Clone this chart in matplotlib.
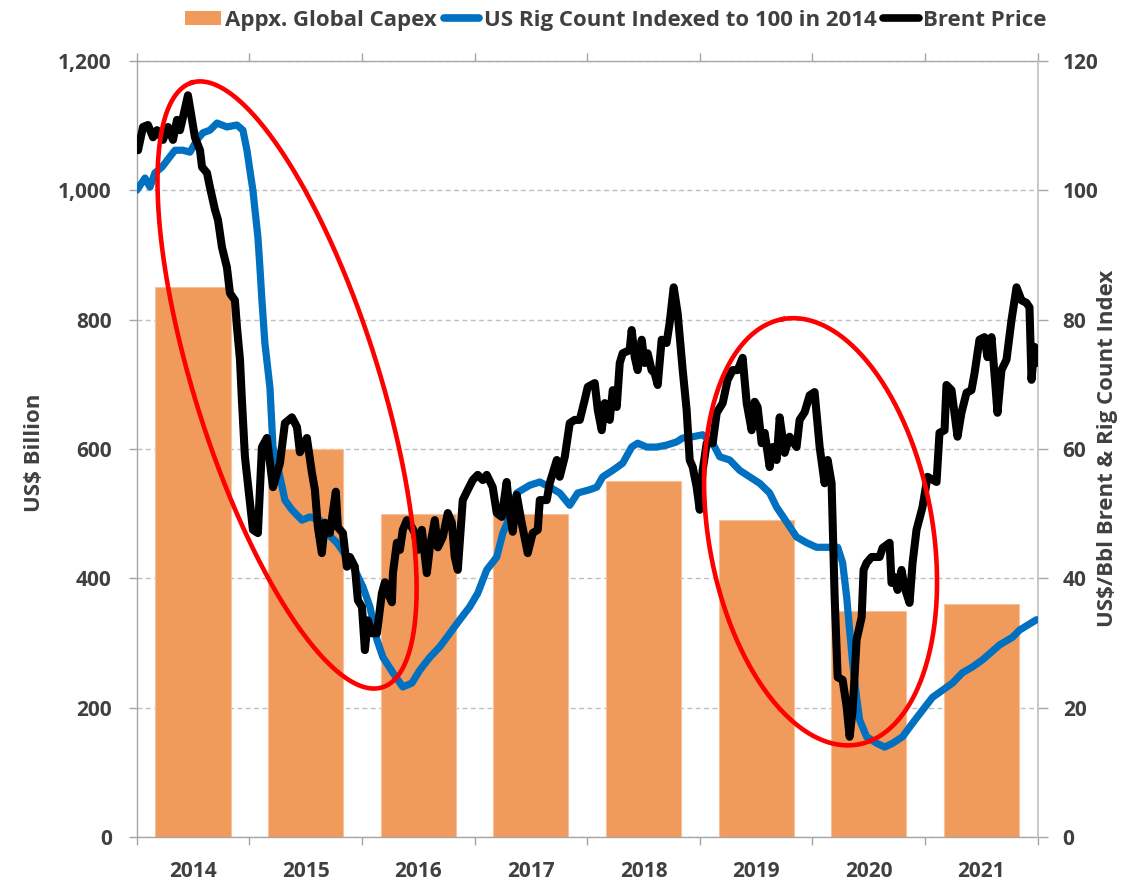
import numpy as np
import matplotlib
matplotlib.use("Agg")
import matplotlib.pyplot as plt
from matplotlib.lines import Line2D
from matplotlib.patches import Patch
from matplotlib.ticker import FuncFormatter, FixedLocator

# ---------------- data ----------------
years = [2014, 2015, 2016, 2017, 2018, 2019, 2020, 2021]
capex = [850, 600, 500, 500, 550, 490, 350, 360]          # US$ billion

# Brent price (US$/bbl); time in years since 1 Jan 2014
brent_dt = [0.000, 0.012, 0.056, 0.100, 0.145, 0.180, 0.233, 0.278, 0.322, 0.358,
            0.384, 0.411, 0.455, 0.491, 0.517, 0.562, 0.580, 0.624, 0.650, 0.695,
            0.722, 0.757, 0.801, 0.828, 0.872, 0.890, 0.917, 0.934, 0.961, 1.032,
            1.076, 1.112, 1.156, 1.210, 1.272, 1.316, 1.378, 1.423, 1.449, 1.511,
            1.556, 1.582, 1.609, 1.644, 1.671, 1.715, 1.768, 1.786, 1.831, 1.866,
            1.893, 1.937, 1.964, 2.000, 2.026, 2.053, 2.089, 2.133, 2.177, 2.204,
            2.230, 2.266, 2.275, 2.310, 2.337, 2.363, 2.399, 2.443, 2.470, 2.496,
            2.532, 2.576, 2.603, 2.647, 2.674, 2.718, 2.762, 2.798, 2.824, 2.851,
            2.895, 2.940, 2.984, 3.028, 3.073, 3.108, 3.161, 3.197, 3.241, 3.285,
            3.312, 3.339, 3.374, 3.418, 3.472, 3.516, 3.561, 3.579, 3.641, 3.667,
            3.730, 3.756, 3.801, 3.845, 3.889, 3.934, 3.978, 4.005, 4.067, 4.094,
            4.129, 4.156, 4.200, 4.227, 4.262, 4.289, 4.315, 4.377, 4.395, 4.422,
            4.448, 4.484, 4.510, 4.537, 4.572, 4.599, 4.626, 4.661, 4.705, 4.732,
            4.768, 4.803, 4.848, 4.883, 4.910, 4.937, 4.972, 4.999, 5.025, 5.061,
            5.114, 5.150, 5.203, 5.247, 5.292, 5.336, 5.380, 5.416, 5.460, 5.487,
            5.513, 5.549, 5.576, 5.620, 5.646, 5.682, 5.709, 5.753, 5.797, 5.859,
            5.886, 5.931, 5.975, 6.019, 6.064, 6.108, 6.135, 6.170, 6.197, 6.224,
            6.268, 6.304, 6.330, 6.357, 6.392, 6.437, 6.454, 6.481, 6.525, 6.596,
            6.623, 6.685, 6.702, 6.729, 6.756, 6.791, 6.818, 6.862, 6.889, 6.924,
            6.977, 7.022, 7.102, 7.128, 7.173, 7.190, 7.235, 7.261, 7.288, 7.323,
            7.368, 7.412, 7.439, 7.483, 7.527, 7.554, 7.590, 7.616, 7.643, 7.678,
            7.723, 7.767, 7.812, 7.856, 7.900, 7.927, 7.945, 7.971, 7.989]
brent_price = [107.0, 106.2, 109.8, 110.1, 108.2, 109.3, 107.8, 109.8, 107.8, 110.9,
               109.3, 111.3, 114.7, 110.9, 108.2, 106.2, 103.6, 102.7, 100.5, 97.0,
               95.4, 91.2, 88.1, 84.1, 83.0, 78.9, 73.8, 67.6, 58.8, 47.5,
               47.0, 60.3, 61.7, 54.1, 57.8, 64.0, 64.9, 63.4, 59.5, 61.7,
               56.3, 53.7, 47.9, 43.9, 48.6, 47.0, 53.4, 47.9, 47.0, 41.8,
               43.3, 41.8, 36.6, 35.6, 28.9, 33.5, 31.5, 31.5, 37.7, 39.4,
               37.7, 36.3, 40.8, 45.5, 44.4, 47.5, 49.0, 47.9, 47.0, 44.4,
               47.5, 40.8, 44.8, 49.0, 44.8, 46.4, 50.1, 48.6, 43.3, 41.3,
               52.1, 53.7, 55.2, 56.0, 55.2, 56.0, 54.1, 50.1, 49.5, 54.9,
               50.1, 47.2, 52.9, 48.6, 43.9, 47.0, 47.5, 52.1, 52.1, 54.7,
               58.3, 55.7, 58.8, 64.0, 64.5, 64.5, 67.6, 69.6, 70.2, 66.0,
               62.9, 67.1, 64.5, 69.1, 66.5, 73.3, 74.8, 75.3, 78.4, 74.2,
               72.2, 76.9, 73.3, 74.8, 72.2, 71.7, 69.9, 76.9, 76.4, 79.5,
               85.0, 81.0, 72.2, 66.0, 58.3, 57.2, 54.1, 50.6, 56.7, 60.9,
               60.9, 65.6, 67.1, 70.7, 72.2, 72.2, 74.1, 67.1, 62.9, 67.3,
               66.5, 60.9, 62.5, 57.2, 60.3, 58.3, 64.9, 59.4, 61.9, 60.3,
               64.5, 65.7, 68.3, 68.8, 60.3, 54.7, 58.3, 54.7, 37.1, 24.7,
               24.3, 20.1, 15.5, 19.6, 30.5, 34.0, 41.3, 42.4, 43.3, 43.3,
               44.7, 45.5, 39.3, 40.2, 38.2, 41.3, 38.6, 36.2, 42.4, 47.5,
               51.0, 55.7, 54.9, 62.5, 62.9, 69.9, 69.1, 65.6, 61.9, 65.6,
               68.7, 69.1, 71.7, 76.9, 77.3, 74.2, 77.3, 71.7, 65.6, 72.2,
               73.8, 79.9, 85.0, 83.0, 82.6, 81.9, 70.7, 75.8, 73.3]

# US rig count indexed to 100 (start of 2014); time in years since 1 Jan 2014
rig_dt = [0.000, 0.074, 0.118, 0.162, 0.225, 0.295, 0.340, 0.411, 0.473, 0.535,
          0.588, 0.650, 0.713, 0.801, 0.890, 0.943, 0.979, 1.005, 1.032, 1.050,
          1.076, 1.094, 1.112, 1.138, 1.183, 1.210, 1.272, 1.316, 1.378, 1.467,
          1.538, 1.627, 1.689, 1.778, 1.866, 1.937, 2.008, 2.071, 2.133, 2.186,
          2.275, 2.363, 2.443, 2.514, 2.603, 2.691, 2.780, 2.869, 2.957, 3.028,
          3.108, 3.197, 3.251, 3.312, 3.374, 3.490, 3.579, 3.667, 3.756, 3.845,
          3.916, 4.022, 4.085, 4.138, 4.227, 4.315, 4.395, 4.448, 4.528, 4.617,
          4.705, 4.794, 4.848, 4.937, 5.025, 5.114, 5.177, 5.265, 5.354, 5.442,
          5.531, 5.620, 5.682, 5.771, 5.859, 5.948, 6.037, 6.152, 6.224, 6.268,
          6.304, 6.330, 6.357, 6.392, 6.419, 6.481, 6.570, 6.641, 6.712, 6.800,
          6.889, 6.977, 7.066, 7.155, 7.243, 7.332, 7.421, 7.510, 7.661, 7.777,
          7.839, 7.989]
rig_index = [100.0, 101.9, 100.5, 102.7, 103.6, 105.2, 106.2, 106.2, 105.9, 107.8,
             108.9, 109.3, 110.4, 109.8, 110.1, 109.3, 106.2, 103.1, 100.0, 97.0,
             92.8, 88.1, 83.0, 76.4, 69.5, 60.3, 55.7, 52.1, 50.6, 49.0,
             49.5, 49.0, 47.0, 45.5, 43.3, 41.3, 38.7, 35.6, 30.5, 27.8,
             25.4, 23.2, 23.8, 25.8, 27.8, 29.4, 31.5, 33.6, 35.6, 37.7,
             41.3, 43.3, 47.0, 49.5, 53.2, 54.4, 54.9, 54.1, 53.2, 51.3,
             53.2, 53.7, 54.1, 55.7, 56.7, 57.8, 60.3, 60.9, 60.3, 60.3,
             60.6, 61.1, 61.7, 61.9, 62.2, 60.9, 58.8, 58.3, 56.7, 55.7,
             54.7, 53.2, 51.0, 48.7, 46.4, 45.5, 44.8, 44.8, 44.8, 42.4,
             37.1, 32.0, 26.9, 21.6, 18.1, 15.5, 14.5, 13.9, 14.5, 15.5,
             17.6, 19.6, 21.6, 22.7, 23.8, 25.4, 26.3, 27.4, 29.7, 30.9,
             32.0, 33.6]

legend_labels = ["Appx. Global Capex", "US Rig Count Indexed to 100 in 2014", "Brent Price"]
left_label = "US$ Billion"
right_label = "US$/Bbl Brent & Rig Count Index"

# ---------------- style ----------------
FONT = "Open Sans"
TXT = "#404040"
GRID = "#BFBFBF"
SPINE = "#A6A6A6"
ORANGE = "#F09A5B"
BLUE = "#0070C0"

plt.rcParams["font.family"] = [FONT, "DejaVu Sans"]
plt.rcParams["font.weight"] = "bold"

W, H = 1135, 880
fig = plt.figure(figsize=(W / 100, H / 100), dpi=100)
ax = fig.add_axes([136.7 / W, 1 - 837 / H, (1037.7 - 136.7) / W, (837 - 61) / H])
ax2 = ax.twinx()

base = years[0]
x0, x1 = base, years[-1] + 1

# bars (primary axis)
centers = [y + 0.5 for y in years]
ax.bar(centers, capex, width=0.667, color=ORANGE, edgecolor="#F7C29B",
       linewidth=0.8, zorder=2)

ax.set_xlim(x0, x1)
ax.set_ylim(0, 1200)
ax.set_yticks(np.arange(0, 1201, 200))
ax.yaxis.set_major_formatter(FuncFormatter(lambda v, p: f"{int(v):,}"))
ax.set_axisbelow(True)
ax.yaxis.grid(True, color=GRID, linestyle=(0, (3.5, 2.5)), linewidth=1.0, zorder=0)

# x ticks: boundaries (major, unlabeled) and year labels at centers (minor)
ax.xaxis.set_major_locator(FixedLocator(list(range(x0, x1 + 1))))
ax.set_xticklabels([])
ax.xaxis.set_minor_locator(FixedLocator(centers))
ax.set_xticklabels([str(y) for y in years], minor=True)
ax.tick_params(axis="x", which="major", top=True, bottom=True, direction="out",
               length=6, width=1, color=SPINE, labelbottom=False, labeltop=False)
ax.tick_params(axis="x", which="minor", length=0, pad=17, labelsize=15,
               labelcolor=TXT)
ax.tick_params(axis="y", which="major", direction="out", length=6, width=1,
               color=SPINE, pad=12, labelsize=15, labelcolor=TXT)
for lab in ax.get_xticklabels(minor=True) + ax.get_yticklabels():
    lab.set_fontweight("bold")

for side in ["left", "bottom", "top"]:
    ax.spines[side].set_color(SPINE)
    ax.spines[side].set_linewidth(1.0)
ax.spines["right"].set_visible(False)

# lines (secondary axis)
brent_x = [base + d for d in brent_dt]
rig_x = [base + d for d in rig_dt]
ax2.plot(rig_x, rig_index, color=BLUE, linewidth=5.2, solid_joinstyle="round",
         solid_capstyle="round", zorder=3)
ax2.plot(brent_x, brent_price, color="black", linewidth=5.8, solid_joinstyle="round",
         solid_capstyle="round", zorder=4)
ax2.set_ylim(0, 120)
ax2.set_xlim(x0, x1)
ax2.set_yticks(np.arange(0, 121, 20))
ax2.tick_params(axis="y", direction="out", length=7, width=1, color=SPINE, pad=11,
                labelsize=15, labelcolor=TXT)
for lab in ax2.get_yticklabels():
    lab.set_fontweight("bold")
for side in ["left", "bottom", "top"]:
    ax2.spines[side].set_visible(False)
ax2.spines["right"].set_color("#BFBFBF")
ax2.spines["right"].set_linewidth(1.2)

# axis titles
fig.text(34 / W, 1 - 453 / H, left_label, rotation=90, ha="center", va="center",
         fontsize=16, fontweight="bold", color=TXT)
fig.text(1107 / W, 1 - 448 / H, right_label, rotation=90, ha="center", va="center",
         fontsize=16, fontweight="bold", color=TXT)

# legend
handles = [Patch(facecolor=ORANGE, edgecolor="none"),
           Line2D([], [], color=BLUE, linewidth=5.5, solid_capstyle="round"),
           Line2D([], [], color="black", linewidth=5.5, solid_capstyle="round")]
leg = fig.legend(handles, legend_labels, loc="upper center",
                 bbox_to_anchor=(616 / W, 1 - 1 / H), ncol=3, frameon=False,
                 handlelength=1.6, handleheight=0.65, handletextpad=0.2,
                 columnspacing=0.3, borderaxespad=0.0,
                 prop={"family": FONT, "weight": "bold", "size": 16})
for t in leg.get_texts():
    t.set_color(TXT)

# red highlight ellipses (annotation), centre in data coords, axes in pixels
ellipses = [  # (centre year, centre value on right axis, semi-major px, semi-minor px, tilt deg)
    (2015.335, 69.9, 317, 92, 17.5),
    (2020.072, 47.2, 216, 112, 10.0),
]
fig.canvas.draw()
s = np.linspace(0, 2 * np.pi, 400)
for cx, cy, a, b, tilt in ellipses:
    c = ax2.transData.transform((cx, cy))
    th = np.deg2rad(tilt)
    u = np.array([-np.sin(th), np.cos(th)])
    v = np.array([np.cos(th), np.sin(th)])
    pts = c[None, :] + (a * np.cos(s))[:, None] * u[None, :] + (b * np.sin(s))[:, None] * v[None, :]
    fpts = fig.transFigure.inverted().transform(pts)
    fig.add_artist(Line2D(fpts[:, 0], fpts[:, 1], color="#FF0000", linewidth=3.3,
                          transform=fig.transFigure, zorder=10))

fig.savefig("out.png", dpi=100)
